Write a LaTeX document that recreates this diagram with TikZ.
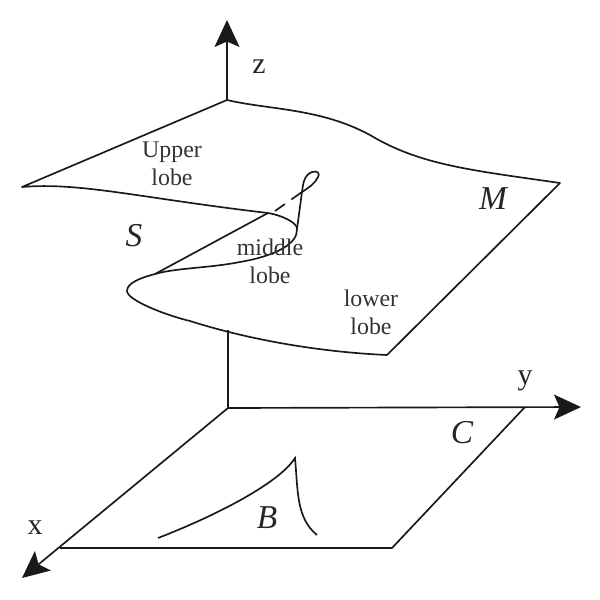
\documentclass[tikz,border=0pt]{standalone}
\usepackage{fontspec}
\setmainfont{Liberation Serif}
\usetikzlibrary{arrows.meta}
\tikzset{
  curve/.style={line width=0.95pt,black!90},
  axis/.style={line width=0.95pt,black!90,-{Stealth[length=0.54cm,width=0.5cm,inset=0.11cm]}},
  lbl/.style={font=\fontsize{13.6pt}{16pt}\selectfont,align=center,text=black!80,inner sep=0pt},
  axlbl/.style={font=\fontsize{17pt}{18pt}\selectfont,text=black!85,inner sep=0pt},
  ital/.style={font=\fontsize{19pt}{20pt}\selectfont\itshape,text=black!85,inner sep=0pt}
}
\begin{document}
\begin{tikzpicture}[x=0.02cm,y=-0.02cm]
\useasboundingbox (0,0) rectangle (600,600);
% named points
\coordinate (O) at (228,408);
\coordinate (zb) at (227,100);
\coordinate (zt) at (227,20);
\coordinate (zl) at (228,330);
\coordinate (yt) at (581,407);
\coordinate (xt) at (22,578);
\coordinate (cx) at (60,548);
\coordinate (cc) at (392,548);
\coordinate (cy) at (525,407);
\coordinate (ml) at (22,187);
\coordinate (mr) at (560,183);
\coordinate (mb) at (387,355);
\coordinate (fa) at (155,274);
\coordinate (fb) at (268,213);
\coordinate (fr) at (297,229);
\coordinate (cross) at (302,192);
\coordinate (ba) at (158,538);
\coordinate (bc) at (295,458);
\coordinate (bd) at (317,535);
% axes
\draw[axis] (zb) -- (zt);
\draw[curve] (zl) -- (O);
\draw[axis] (O) -- (yt);
\draw[axis] (O) -- (xt);
% control plane
\draw[curve] (cx) -- (cc) -- (cy);
% bifurcation set
\draw[curve] (ba) .. controls (220,514) and (280,482) .. (bc)
  .. controls (298,490) and (296,518) .. (bd);
% surface
\draw[curve,line join=round] (mb) -- (mr)
  .. controls (470,170) and (420,165) .. (370,135)
  .. controls (320,108) and (270,110) .. (zb) -- (ml)
  .. controls (80,182) and (140,198) .. (fb)
  .. controls (285,216) and (298,224) .. (fr)
  .. controls (298,244) and (275,256) .. (240,262)
  .. controls (210,268) and (175,268) .. (fa)
  .. controls (140,278) and (127,283) .. (127,291)
  .. controls (127,300) and (165,315) .. (190,321)
  .. controls (250,340) and (320,352) .. (mb);
\draw[curve] (fa) -- (fb);
% cusp fold with loop
\draw[curve,line join=round] (fr) -- (cross)
  .. controls (303,184) and (304,175) .. (312,172)
  .. controls (318,170) and (320,174) .. (318,177)
  .. controls (315,184) and (308,188) .. (cross);
\draw[curve,dash pattern=on 0.26cm off 0.16cm] (cross) -- (275,211);
% labels
\node[axlbl] (lz) at (259,67) {z};
\node[axlbl] (ly) at (525,381) {y};
\node[axlbl] (lx) at (35,528) {x};
\node[lbl] (lu) at (172,164) {Upper\\lobe};
\node[lbl] (lm) at (270,261) {middle\\lobe};
\node[lbl] (ll) at (371,312) {lower\\lobe};
\node[ital] (nS) at (134,236) {S};
\node[ital] (nM) at (493,199) {M};
\node[ital] (nC) at (462,433) {C};
\node[ital] (nB) at (267,518) {B};
\end{tikzpicture}
\end{document}
